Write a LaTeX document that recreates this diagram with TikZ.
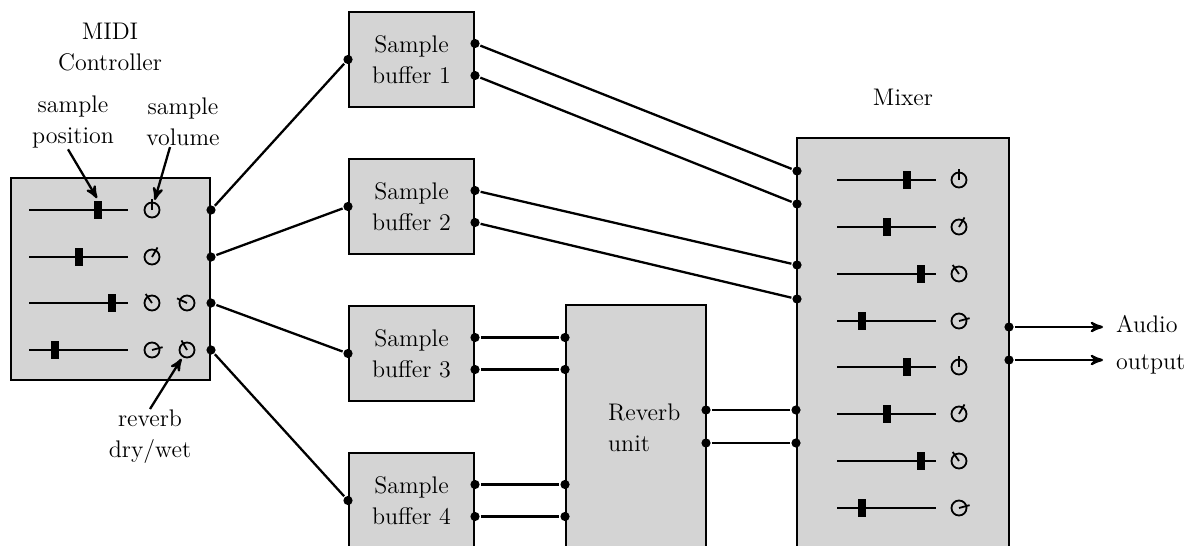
\documentclass[tikz,border=0pt]{standalone}
\usepackage{fontspec}
\usetikzlibrary{arrows,positioning}

\newcommand{\fader}[5]{% name, x from, x to, y, handle x
  \draw[slider] (#2,#4) -- (#3,#4);
  \node[handle] (#1) at (#5,#4) {};}
\newcommand{\knob}[4]{% name, x, y, angle
  \node[dial] (#1) at (#2,#3) {};
  \draw[pointer] (#1.center) -- ++(#4:5.5pt);}

\begin{document}
\begin{tikzpicture}[x=0.5pt,y=-0.5pt,>=stealth',line width=1.15pt,
        node distance=73.5pt,font=\fontsize{12}{15.5}\selectfont,
        box/.style={draw,fill=black!17,line width=1pt,inner sep=0pt,align=center},
        buffer/.style={box,minimum width=62.5pt,minimum height=47.5pt},
        port/.style={circle,fill,inner sep=0pt,minimum size=4.6pt},
        slider/.style={line width=1.1pt},
        handle/.style={fill,inner sep=0pt,minimum width=3.8pt,minimum height=9pt},
        dial/.style={circle,draw,line width=0.9pt,inner sep=0pt,minimum size=7.5pt},
        pointer/.style={line width=0.9pt},
        note/.style={align=center,inner sep=0pt},
        callout/.style={->,shorten >=1pt}]

  \useasboundingbox (0,0) rectangle (1189,546);
  \clip (0,0) rectangle (1189,546);

  % controller
  \node[box,minimum width=99.5pt,minimum height=101pt] (midi) at (110.5,279) {};
  \node[note] (ctrl) at (110,47) {MIDI\\Controller};
  \node[note] (spos) at (73,122) {sample\\position};
  \node[note] (svol) at (183,122) {sample\\volume};
  \node[note] (rdw) at (150,437) {reverb\\dry/wet};

  \fader{pos1}{29}{128}{210}{98}  \knob{vol1}{152}{210}{90}
  \fader{pos2}{29}{128}{257}{79}  \knob{vol2}{152}{257}{60}
  \fader{pos3}{29}{128}{303}{112} \knob{vol3}{152}{303}{125} \knob{dw3}{187}{303}{155}
  \fader{pos4}{29}{128}{350}{55}  \knob{vol4}{152}{350}{15}  \knob{dw4}{187}{350}{120}

  % buffers
  \node[buffer] (b1) at (411.5,59.5) {Sample\\buffer 1};
  \node[buffer] (b2) [below of=b1] {Sample\\buffer 2};
  \node[buffer] (b3) [below of=b2] {Sample\\buffer 3};
  \node[buffer] (b4) [below of=b3] {Sample\\buffer 4};

  % reverb
  \node[box,minimum width=70pt,minimum height=127.5pt] (rv) at (636,432.5) {};
  \node[align=left,anchor=west,inner sep=0pt] (rvl) at (607,428) {Reverb\\unit};

  % mixer
  \node[box,minimum width=106pt,minimum height=211pt] (mx) at (903,349) {};
  \node[anchor=base] (mxl) at (903,105) {Mixer};
  \node[align=left,anchor=west,inner sep=0pt] (out) at (1115,345) {Audio\\[3pt]output};

  \fader{mpos1}{837}{936}{180}{907} \knob{mvol1}{959}{180}{90}
  \fader{mpos2}{837}{936}{227}{887} \knob{mvol2}{959}{227}{60}
  \fader{mpos3}{837}{936}{274}{921} \knob{mvol3}{959}{274}{125}
  \fader{mpos4}{837}{936}{321}{862} \knob{mvol4}{959}{321}{15}
  \fader{mpos5}{837}{936}{367}{907} \knob{mvol5}{959}{367}{90}
  \fader{mpos6}{837}{936}{414}{887} \knob{mvol6}{959}{414}{60}
  \fader{mpos7}{837}{936}{461}{921} \knob{mvol7}{959}{461}{125}
  \fader{mpos8}{837}{936}{508}{862} \knob{mvol8}{959}{508}{15}

  % ports
  \node[port] (m1) at (midi.east |- vol1) {};
  \node[port] (m2) at (midi.east |- vol2) {};
  \node[port] (m3) at (midi.east |- vol3) {};
  \node[port] (m4) at (midi.east |- vol4) {};

  \node[port] (b1in) at (b1.west) {};
  \node[port] (b2in) at (b2.west) {};
  \node[port] (b3in) at (b3.west) {};
  \node[port] (b4in) at (b4.west) {};
  \node[port] (b1o1) at ([yshift=8pt]b1.east) {};
  \node[port] (b1o2) at ([yshift=-8pt]b1.east) {};
  \node[port] (b2o1) at ([yshift=8pt]b2.east) {};
  \node[port] (b2o2) at ([yshift=-8pt]b2.east) {};
  \node[port] (b3o1) at ([yshift=8pt]b3.east) {};
  \node[port] (b3o2) at ([yshift=-8pt]b3.east) {};
  \node[port] (b4o1) at ([yshift=8pt]b4.east) {};
  \node[port] (b4o2) at ([yshift=-8pt]b4.east) {};

  \node[port] (ri1) at (rv.west |- b3o1) {};
  \node[port] (ri2) at (rv.west |- b3o2) {};
  \node[port] (ri3) at (rv.west |- b4o1) {};
  \node[port] (ri4) at (rv.west |- b4o2) {};
  \node[port] (ro1) at (706,410) {};
  \node[port] (ro2) at (706,443) {};

  \node[port] (mx1) at (797,171) {};
  \node[port] (mx2) at (797,204) {};
  \node[port] (mx3) at (797,265) {};
  \node[port] (mx4) at (797,299) {};
  \node[port] (mx5) at (mx.west |- ro1) {};
  \node[port] (mx6) at (mx.west |- ro2) {};
  \node[port] (mo1) at (1009,327) {};
  \node[port] (mo2) at (1009,360) {};
  \coordinate (ao1) at ([xshift=47pt]mo1);
  \coordinate (ao2) at ([xshift=47pt]mo2);

  \path (m1) edge (b1in)
        (m2) edge (b2in)
        (m3) edge (b3in)
        (m4) edge (b4in)
        (b1o1) edge (mx1)
        (b1o2) edge (mx2)
        (b2o1) edge (mx3)
        (b2o2) edge (mx4)
        (b3o1) edge (ri1)
        (b3o2) edge (ri2)
        (b4o1) edge (ri3)
        (b4o2) edge (ri4)
        (ro1) edge (mx5)
        (ro2) edge (mx6)
        (mo1) edge[->] (ao1)
        (mo2) edge[->] (ao2);

  \draw[callout] ([xshift=-2.5pt]spos.south) -- (pos1.north);
  \draw[callout] ([xshift=-6.5pt]svol.south) -- (vol1.75);
  \draw[callout] (rdw.north) -- (dw4);

\end{tikzpicture}
\end{document}
